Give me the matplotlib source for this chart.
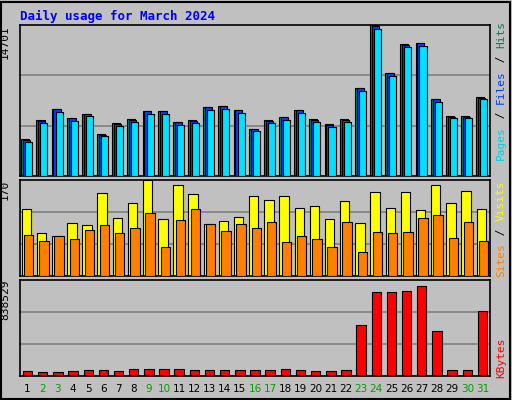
import matplotlib
matplotlib.use("Agg")
import matplotlib.pyplot as plt
import numpy as np

days = list(range(1, 32))
weekend = [2, 3, 9, 10, 16, 17, 23, 24, 30, 31]
hits = [3600, 5450, 6530, 5650, 6040, 4090, 5160, 5550, 6330, 6330, 5260, 5450, 6720, 6820, 6430, 4580,
        5450, 5750, 6430, 5550, 5060, 5550, 8570, 14701, 10030, 12860, 12960, 7500, 5840, 5840, 7690]
files = [3550, 5400, 6480, 5600, 5990, 4040, 5110, 5500, 6280, 6280, 5210, 5400, 6670, 6770, 6380, 4530,
         5400, 5700, 6380, 5500, 5010, 5500, 8520, 14600, 9980, 12800, 12900, 7450, 5790, 5790, 7640]
pages = [3350, 5200, 6250, 5400, 5800, 3850, 4900, 5300, 6050, 6050, 5000, 5200, 6450, 6550, 6150, 4350,
         5200, 5500, 6150, 5300, 4800, 5300, 8300, 14300, 9750, 12550, 12650, 7200, 5600, 5600, 7450]
visits = [119, 76, 71, 94, 90, 147, 103, 129, 170, 101, 161, 145, 92, 97, 104, 142,
          135, 142, 120, 124, 101, 133, 94, 149, 120, 149, 117, 161, 129, 150, 119]
sites = [73, 62, 71, 65, 81, 90, 76, 85, 112, 51, 99, 119, 92, 80, 92, 85,
         96, 60, 71, 65, 51, 96, 42, 78, 76, 78, 103, 108, 67, 96, 62]
kbytes = [44000, 35000, 35000, 44000, 52000, 52000, 44000, 61000, 70000, 70000, 70000, 52000, 52000, 52000,
          52000, 52000, 52000, 61000, 52000, 44000, 44000, 52000, 480000, 786000, 786000, 795000, 838529,
          420000, 52000, 52000, 611000]

W, H = 512, 400
fig = plt.figure(figsize=(W / 100, H / 100), dpi=100)
fig.patch.set_facecolor("#C0C0C0")
BG = "#C0C0C0"

def ax_at(x0, y0, x1, y1):
    return fig.add_axes([x0 / W, 1 - y1 / H, (x1 - x0) / W, (y1 - y0) / H])

# figure border
fig.add_artist(plt.Rectangle((1 / W, 1 / H), (W - 3) / W, (H - 3) / H, transform=fig.transFigure,
                             fill=False, edgecolor="black", lw=1.5))
fig.text(20 / W, 1 - 16 / H, "Daily usage for March 2024", color="#0000FF", family="DejaVu Sans Mono",
         fontweight="bold", fontsize=9, va="center")

x = np.arange(1, 32)
bw = 0.62
sh = 0.13

def style(ax, ymax, label):
    ax.set_facecolor(BG)
    ax.set_xlim(0.5, 31.5)
    ax.set_ylim(0, ymax)
    ax.set_xticks([])
    ax.set_yticks([])
    for s in ax.spines.values():
        s.set_color("black")
        s.set_linewidth(1.2)
    ax.text(-0.032, 1.0, label, transform=ax.transAxes, rotation=90, ha="center", va="top",
            family="DejaVu Sans Mono", fontsize=8)

# top panel
ax1 = ax_at(20, 25, 490, 176)
style(ax1, 14701, "14701")
for g in (14701 / 3, 2 * 14701 / 3):
    ax1.axhline(g, color="#808080", lw=1.2, zorder=0)
ax1.bar(x - 0.18 + sh, hits, bw * 0.75, color="black", zorder=1)
ax1.bar(x - 0.18, hits, bw * 0.75, color="#00805A", edgecolor="black", lw=0.8, zorder=2)
ax1.bar(x - 0.06, files, bw * 0.75, color="#0040FF", edgecolor="black", lw=0.8, zorder=3)
ax1.bar(x + 0.08, pages, bw * 0.75, color="#00E0FF", edgecolor="black", lw=0.8, zorder=4)

# middle panel
ax2 = ax_at(20, 180, 490, 276)
style(ax2, 170, "170")
for g in (170 / 3, 2 * 170 / 3):
    ax2.axhline(g, color="#808080", lw=1.2, zorder=0)
ax2.bar(x - 0.08, visits, bw, color="#FFFF00", edgecolor="black", lw=0.8, zorder=2)
ax2.bar(x + 0.08, sites, bw, color="#FF8000", edgecolor="black", lw=0.8, zorder=3)

# bottom panel
ax3 = ax_at(20, 280, 490, 376)
style(ax3, 838529 * 1.07, "838529")
for g in (838529 * 1.07 / 3, 2 * 838529 * 1.07 / 3):
    ax3.axhline(g, color="#808080", lw=1.2, zorder=0)
ax3.bar(x, kbytes, bw, color="#FF0000", edgecolor="black", lw=0.8, zorder=2)
ax3.set_xticks(x)
ax3.set_xticklabels([str(d) for d in days], fontsize=7.5, family="DejaVu Sans")
for lbl, d in zip(ax3.get_xticklabels(), days):
    lbl.set_color("#00A000" if d in weekend else "black")
ax3.tick_params(axis="x", length=0, pad=6)

# right labels
def rlabel(y_center, parts):
    total = sum(len(p[0]) for p in parts)
    ch = 7.0
    y = y_center + total * ch / 2
    for t, c in parts:
        fig.text(501 / W, 1 - y / H, t, color=c, rotation=90, ha="center", va="bottom",
                 family="DejaVu Sans Mono", fontsize=8)
        y -= len(t) * ch

rlabel(90, [("Pages", "#00D0E0"), (" / ", "black"), ("Files", "#0040FF"), (" / ", "black"), ("Hits", "#00805A")])
rlabel(228, [("Sites", "#FF8000"), (" / ", "black"), ("Visits", "#FFFF00")])
rlabel(357, [("KBytes", "#FF0000")])

fig.savefig("out.png", dpi=100, facecolor=fig.get_facecolor())
